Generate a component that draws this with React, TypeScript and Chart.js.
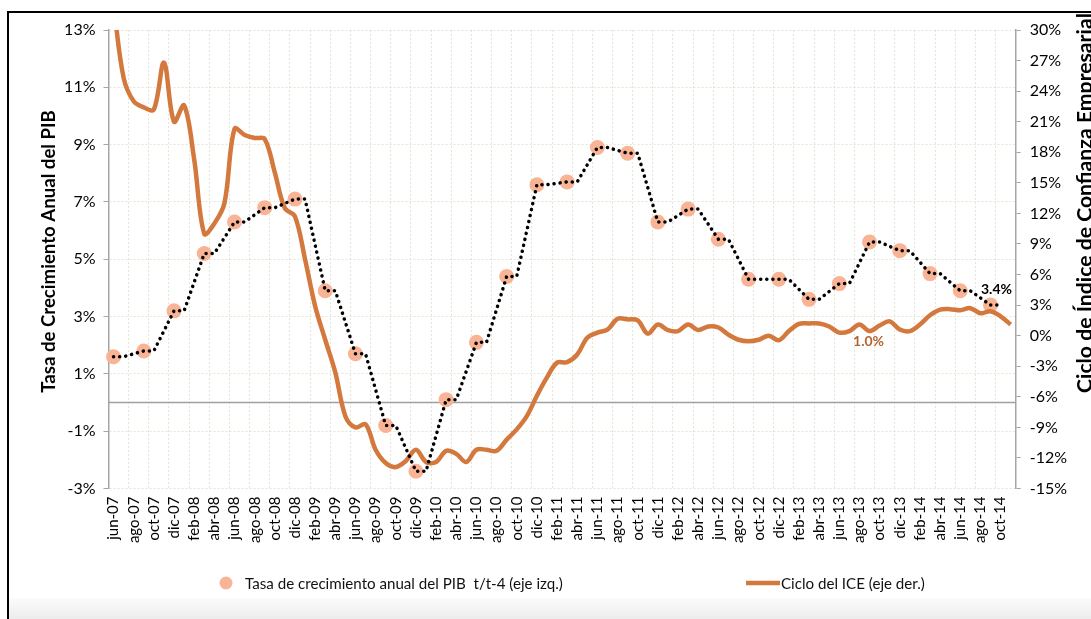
import React, { useEffect, useRef } from "react";
import { Chart, registerables } from "chart.js";

Chart.register(...registerables);

// ---------- DATA ----------
const MONTHS = [
  "jun-07", "jul-07", "ago-07", "sep-07", "oct-07", "nov-07", "dic-07",
  "ene-08", "feb-08", "mar-08", "abr-08", "may-08", "jun-08", "jul-08", "ago-08", "sep-08", "oct-08", "nov-08", "dic-08",
  "ene-09", "feb-09", "mar-09", "abr-09", "may-09", "jun-09", "jul-09", "ago-09", "sep-09", "oct-09", "nov-09", "dic-09",
  "ene-10", "feb-10", "mar-10", "abr-10", "may-10", "jun-10", "jul-10", "ago-10", "sep-10", "oct-10", "nov-10", "dic-10",
  "ene-11", "feb-11", "mar-11", "abr-11", "may-11", "jun-11", "jul-11", "ago-11", "sep-11", "oct-11", "nov-11", "dic-11",
  "ene-12", "feb-12", "mar-12", "abr-12", "may-12", "jun-12", "jul-12", "ago-12", "sep-12", "oct-12", "nov-12", "dic-12",
  "ene-13", "feb-13", "mar-13", "abr-13", "may-13", "jun-13", "jul-13", "ago-13", "sep-13", "oct-13", "nov-13", "dic-13",
  "ene-14", "feb-14", "mar-14", "abr-14", "may-14", "jun-14", "jul-14", "ago-14", "sep-14", "oct-14", "nov-14",
];

// Quarterly GDP growth (t/t-4), jun-07 .. sep-14 (left axis, %)
const GDP_QUARTERLY = [
  1.6, 1.8, 3.2, 5.2, 6.3, 6.8, 7.1, 3.9, 1.7, -0.8, -2.4, 0.1, 2.1, 4.4, 7.6,
  7.7, 8.9, 8.7, 6.3, 6.75, 5.7, 4.3, 4.3, 3.6, 4.15, 5.6, 5.3, 4.5, 3.9, 3.4,
];

// Business confidence index cycle, monthly jun-07 .. nov-14 (right axis, %)
const ICE_CYCLE = [
  32.5, 25.3, 23.0, 22.4, 22.2, 26.8, 21.0, 22.6, 17.3, 10.0,
  11.0, 13.0, 20.3, 19.7, 19.4, 19.3, 16.0, 12.5, 11.7, 7.5,
  2.9, -0.4, -3.6, -7.9, -9.0, -8.7, -11.2, -12.5, -12.9, -12.3,
  -11.2, -12.4, -12.4, -11.3, -11.6, -12.4, -11.2, -11.2, -11.3, -10.2,
  -9.2, -7.9, -5.9, -4.1, -2.65, -2.6, -1.85, -0.2, 0.3, 0.6,
  1.65, 1.6, 1.5, 0.2, 1.1, 0.55, 0.45, 1.1, 0.55, 0.9,
  0.8, 0.1, -0.4, -0.55, -0.4, 0.0, -0.45, 0.45, 1.15, 1.2,
  1.2, 0.9, 0.3, 0.45, 1.1, 0.45, 1.0, 1.4, 0.6, 0.45,
  1.1, 2.0, 2.55, 2.6, 2.5, 2.7, 2.2, 2.4, 1.9, 1.1,
];

const LEFT_TICKS = [-3, -1, 1, 3, 5, 7, 9, 11, 13];
const RIGHT_TICKS = [-15, -12, -9, -6, -3, 0, 3, 6, 9, 12, 15, 18, 21, 24, 27, 30];

const LEFT_TITLE = "Tasa de Crecimiento Anual del PIB";
const RIGHT_TITLE = "Ciclo de Índice de Confianza Empresarial";
const LEGEND_GDP = "Tasa de crecimiento anual del PIB  t/t-4 (eje izq.)";
const LEGEND_ICE = "Ciclo del ICE (eje der.)";
const LABEL_GDP_LAST = "3.4%";
const LABEL_ICE = "1.0%";

// ---------- STYLE ----------
const W = 1091;
const H = 619;
const FONT = "Lato, 'Open Sans', sans-serif";
const ORANGE = "#D4793D";
const SALMON = "#F9B496";
const GRID = "rgba(210,210,180,0.55)";
const AXIS = "#a6a6a6";

const gdpPoints = MONTHS.map((_, i) =>
  i % 3 === 0 && GDP_QUARTERLY[i / 3] !== undefined ? GDP_QUARTERLY[i / 3] : null
);
const gdpDotted = MONTHS.map((_, i) => {
  const q = Math.floor(i / 3);
  if (i % 3 === 2) return null;
  return GDP_QUARTERLY[q] !== undefined ? GDP_QUARTERLY[q] : null;
});

function fitSize(ctx: CanvasRenderingContext2D, text: string, weight: string, target: number) {
  ctx.font = `${weight} 100px ${FONT}`;
  const w = ctx.measureText(text).width;
  return (100 * target) / w;
}

const decorPlugin = {
  id: "decor",
  beforeDraw(chart: any) {
    const ctx: CanvasRenderingContext2D = chart.ctx;
    ctx.save();
    ctx.fillStyle = "#ffffff";
    ctx.fillRect(0, 0, W, H);
    const g = ctx.createLinearGradient(0, 598, 0, H);
    g.addColorStop(0, "#fbfbfb");
    g.addColorStop(1, "#ededed");
    ctx.fillStyle = g;
    ctx.fillRect(9, 598, W, H - 598);
    // frame
    ctx.strokeStyle = "#000";
    ctx.lineWidth = 2;
    ctx.beginPath();
    ctx.moveTo(8, H);
    ctx.lineTo(8, 12);
    ctx.lineTo(W, 12);
    ctx.stroke();
    ctx.restore();
  },
  beforeDatasetsDraw(chart: any) {
    const ctx: CanvasRenderingContext2D = chart.ctx;
    const y = chart.scales.y.getPixelForValue(0);
    const a = chart.chartArea;
    ctx.save();
    ctx.strokeStyle = "#a0a0a0";
    ctx.lineWidth = 1.5;
    ctx.beginPath();
    ctx.moveTo(a.left, y);
    ctx.lineTo(a.right, y);
    ctx.stroke();
    ctx.restore();
  },
  afterDraw(chart: any) {
    const ctx: CanvasRenderingContext2D = chart.ctx;
    const xs = chart.scales.x;
    const ys = chart.scales.y;
    const y2 = chart.scales.y2;
    ctx.save();
    ctx.fillStyle = "#000";
    // left title
    let s = fitSize(ctx, LEFT_TITLE, "bold", 283);
    ctx.font = `bold ${s}px ${FONT}`;
    ctx.textAlign = "center";
    ctx.textBaseline = "alphabetic";
    ctx.save();
    ctx.translate(54.5, 251.5);
    ctx.rotate(-Math.PI / 2);
    ctx.fillText(LEFT_TITLE, 0, 0);
    ctx.restore();
    // right title (clipped by frame and page edge)
    ctx.save();
    ctx.beginPath();
    ctx.rect(0, 13, W, H);
    ctx.clip();
    s = fitSize(ctx, RIGHT_TITLE, "bold", 380);
    ctx.font = `bold ${s}px ${FONT}`;
    ctx.textAlign = "left";
    ctx.translate(1092, 393);
    ctx.rotate(-Math.PI / 2);
    ctx.fillText(RIGHT_TITLE, 0, 0);
    ctx.restore();

    // legend
    const ly = 583;
    ctx.fillStyle = SALMON;
    ctx.beginPath();
    ctx.arc(226, ly, 6.5, 0, Math.PI * 2);
    ctx.fill();
    s = fitSize(ctx, LEGEND_GDP, "normal", 318);
    ctx.font = `${s}px ${FONT}`;
    ctx.fillStyle = "#111";
    ctx.textAlign = "left";
    ctx.textBaseline = "middle";
    ctx.fillText(LEGEND_GDP, 245, ly + 1);
    ctx.fillText(LEGEND_ICE, 781, ly + 1);
    ctx.strokeStyle = ORANGE;
    ctx.lineWidth = 4.5;
    ctx.beginPath();
    ctx.moveTo(746, ly);
    ctx.lineTo(780, ly);
    ctx.stroke();

    // data labels
    const lastQ = GDP_QUARTERLY.length - 1;
    const gx = xs.getPixelForValue(lastQ * 3);
    const gy = ys.getPixelForValue(GDP_QUARTERLY[lastQ]);
    ctx.font = `bold 14px ${FONT}`;
    ctx.fillStyle = "#000";
    ctx.textAlign = "center";
    ctx.fillText(LABEL_GDP_LAST, gx + 6, gy - 16);
    const ii = 75;
    const ix = xs.getPixelForValue(ii);
    const iy = y2.getPixelForValue(ICE_CYCLE[ii]);
    ctx.fillStyle = "#B5642E";
    ctx.fillText(LABEL_ICE, ix - 1, iy + 10);
    ctx.restore();
  },
};

export default function App() {
  const ref = useRef<HTMLCanvasElement>(null);
  useEffect(() => {
    if (!ref.current) return;
    const chart = new Chart(ref.current, {
      type: "line",
      data: {
        labels: MONTHS,
        datasets: [
          {
            label: "dotted",
            data: gdpDotted,
            yAxisID: "y",
            borderColor: "#000",
            borderWidth: 3.5,
            borderDash: [0.1, 6],
            borderCapStyle: "round",
            pointRadius: 0,
            spanGaps: true,
            tension: 0,
            order: 0,
            clip: 0,
          } as any,
          {
            label: LEGEND_ICE,
            data: ICE_CYCLE,
            yAxisID: "y2",
            borderColor: ORANGE,
            borderWidth: 4.5,
            pointRadius: 0,
            tension: 0.35,
            order: 1,
            clip: 0,
          } as any,
          {
            label: LEGEND_GDP,
            data: gdpPoints,
            yAxisID: "y",
            showLine: false,
            pointRadius: 7.5,
            pointBackgroundColor: SALMON,
            pointBorderWidth: 0,
            pointBorderColor: SALMON,
            order: 2,
            clip: false,
          } as any,
        ],
      },
      options: {
        responsive: false,
        animation: false,
        events: [],
        layout: { padding: { top: 30, left: 0, right: 0, bottom: 0 } },
        plugins: { legend: { display: false }, tooltip: { enabled: false }, title: { display: false } },
        scales: {
          x: {
            type: "category",
            offset: true,
            afterFit: (s: any) => { s.height = H - 488.5; },
            grid: {
              offset: true,
              drawTicks: false,
              color: (c: any) => (c.index % 2 === 0 ? GRID : "rgba(0,0,0,0)"),
              lineWidth: 1,
            },
            border: { display: false, dash: [2, 2] },
            ticks: {
              autoSkip: false,
              maxRotation: 90,
              minRotation: 90,
              padding: 8,
              color: "#000",
              font: { family: FONT, size: 15 },
              callback: (_v: any, i: number) => (i % 2 === 0 ? MONTHS[i] : ""),
            },
          },
          y: {
            position: "left",
            min: LEFT_TICKS[0],
            max: LEFT_TICKS[LEFT_TICKS.length - 1],
            afterFit: (s: any) => { s.width = 108.5; },
            grid: { color: GRID, tickColor: AXIS, tickLength: 5, lineWidth: 1 },
            border: { color: AXIS, width: 1.5, dash: [2, 2] },
            ticks: {
              stepSize: LEFT_TICKS[1] - LEFT_TICKS[0],
              padding: 8,
              color: "#000",
              font: { family: FONT, size: 16 },
              callback: (v: any) => `${v}%`,
            },
          },
          y2: {
            position: "right",
            min: RIGHT_TICKS[0],
            max: RIGHT_TICKS[RIGHT_TICKS.length - 1],
            afterFit: (s: any) => { s.width = W - 1015.7; },
            grid: { drawOnChartArea: false, tickColor: AXIS, tickLength: 5 },
            border: { color: AXIS, width: 1.5 },
            ticks: {
              stepSize: RIGHT_TICKS[1] - RIGHT_TICKS[0],
              padding: 9,
              color: "#000",
              font: { family: FONT, size: 16 },
              callback: (v: any) => `${v}%`,
            },
          },
        },
      } as any,
      plugins: [decorPlugin],
    });
    return () => chart.destroy();
  }, []);

  return (
    <div style={{ position: "fixed", left: 0, top: 0, width: W, height: H, overflow: "hidden", background: "#fff" }}>
      <canvas ref={ref} width={W} height={H} style={{ display: "block", width: W, height: H }} />
    </div>
  );
}
